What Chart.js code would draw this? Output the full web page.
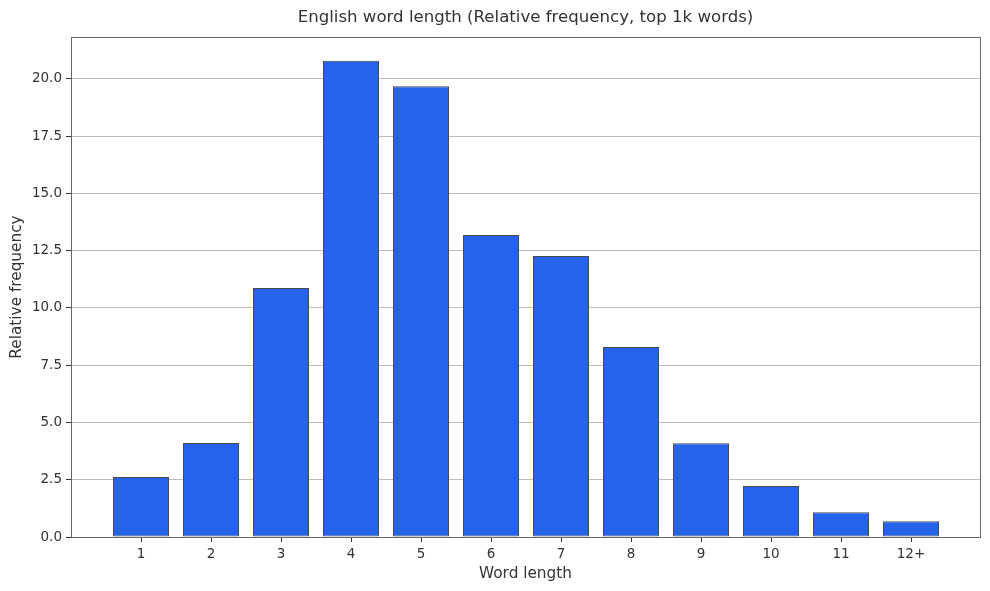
<!DOCTYPE html>
<html>
<head>
<meta charset="utf-8">
<script src="https://cdn.jsdelivr.net/npm/chart.js@4/dist/chart.umd.min.js"></script>
<style>
  html, body { margin: 0; padding: 0; background: #fff; }
  #wrap { width: 990px; height: 591px; }
</style>
</head>
<body>
<div id="wrap"><canvas id="bar-chart"></canvas></div>
<script>
const wordLengths = ["1", "2", "3", "4", "5", "6", "7", "8", "9", "10", "11", "12+"];
const frequencies = [2.62, 4.10, 10.87, 20.79, 19.68, 13.19, 12.27, 8.30, 4.09, 2.23, 1.08, 0.69];
const yTicks = [0, 2.5, 5, 7.5, 10, 12.5, 15, 17.5, 20];
const chartTitle = "English word length (Relative frequency, top 1k words)";

Chart.defaults.font.family = "'DejaVu Sans', sans-serif";
Chart.defaults.color = "#333";

// frame around the plot area + title centred over the plot (matplotlib style)
const frame = {
  id: 'frame',
  afterDraw(chart) {
    const a = chart.chartArea, ctx = chart.ctx;
    ctx.save();
    ctx.strokeStyle = '#666';
    ctx.lineWidth = 1;
    ctx.strokeRect(Math.round(a.left) + 0.5, Math.round(a.top) + 0.5,
                   Math.round(a.right - a.left), Math.round(a.bottom - a.top));
    ctx.fillStyle = '#333';
    ctx.font = "16.6px 'DejaVu Sans', sans-serif";
    ctx.textAlign = 'center';
    ctx.textBaseline = 'middle';
    ctx.fillText(chartTitle, (a.left + a.right) / 2, 18);
    ctx.restore();
  }
};

new Chart(document.getElementById("bar-chart"), {
  type: 'bar',
  data: {
    datasets: [{
      label: "Relative frequency",
      data: frequencies.map((v, i) => ({ x: i, y: v })),
      backgroundColor: '#2563eb',
      borderColor: '#4a4a4a',
      borderWidth: 1,
      borderSkipped: false,
      barPercentage: 0.8,
      categoryPercentage: 1
    }]
  },
  options: {
    responsive: true,
    maintainAspectRatio: false,
    animation: false,
    layout: { padding: { left: 8, right: 10, top: 37, bottom: 8 } },
    plugins: {
      legend: { display: false },
      tooltip: { enabled: false },
      title: { display: false }
    },
    scales: {
      x: {
        type: 'linear',
        offset: false,
        min: -1,
        max: 11 + 69 / 70,
        afterBuildTicks(scale) {
          scale.ticks = wordLengths.map((_, i) => ({ value: i }));
        },
        afterFit(scale) { scale.height = 46; },
        ticks: {
          callback: (v) => wordLengths[v],
          font: { size: 13.5 },
          color: '#333',
          padding: 4,
          maxRotation: 0,
          autoSkip: false
        },
        grid: {
          offset: false,
          drawOnChartArea: false,
          tickLength: 5,
          tickColor: '#333'
        },
        border: { color: '#666' },
        title: {
          display: true,
          text: "Word length",
          font: { size: 15.3 },
          color: '#333',
          padding: { top: 0, bottom: 0 }
        }
      },
      y: {
        min: 0,
        max: 21.83,
        afterBuildTicks(scale) {
          scale.ticks = yTicks.map(v => ({ value: v }));
        },
        afterFit(scale) { scale.width = 63; },
        ticks: {
          callback: (v) => v.toFixed(1),
          font: { size: 13.5 },
          color: '#333',
          padding: 4
        },
        grid: {
          color: '#bdbdbd',
          tickColor: '#333',
          tickLength: 5
        },
        border: { color: '#666' },
        title: {
          display: true,
          text: "Relative frequency",
          font: { size: 15.3 },
          color: '#333',
          padding: { top: 0, bottom: 0 }
        }
      }
    }
  },
  plugins: [frame]
});
</script>
</body>
</html>
